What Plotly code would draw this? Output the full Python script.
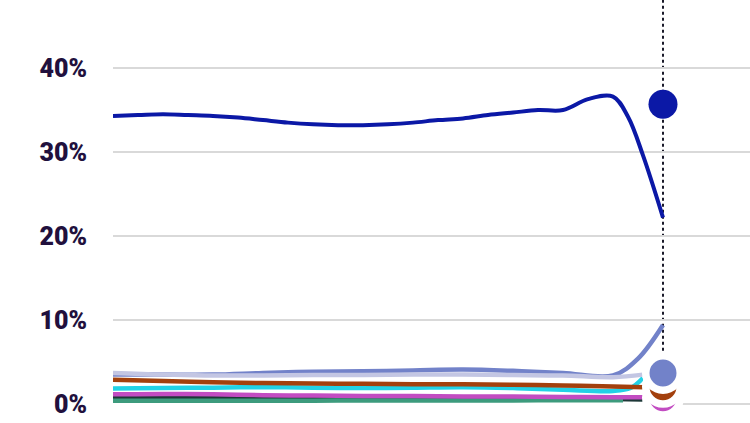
import plotly.graph_objects as go

# ---- data (percent) ----
main_x = [0, 1, 2, 3, 4, 5, 6, 7, 8, 9, 10, 11, 12, 13, 14, 15, 16, 17, 18, 19, 20, 20.6, 21.2, 22]
main_vals = [34.3, 34.4, 34.5, 34.4, 34.3, 34.1, 33.8, 33.5, 33.3, 33.2, 33.2, 33.3, 33.5, 33.8,
             34.0, 34.4, 34.7, 35.0, 35.0, 36.3, 36.6, 34.2, 29.6, 22.2]

peri_x = [0, 2, 4, 6, 8, 10, 12, 14, 16, 18, 20, 21, 22]
peri_vals = [3.5, 3.5, 3.5, 3.7, 3.85, 3.9, 4.0, 4.1, 3.95, 3.7, 3.4, 5.4, 9.4]

small_x = [0, 2, 4, 6, 8, 10, 12, 14, 16, 18, 20, 21.2]
lav_vals = [3.7, 3.5, 3.4, 3.4, 3.45, 3.45, 3.5, 3.5, 3.45, 3.4, 3.2, 3.5]
brown_vals = [2.9, 2.75, 2.6, 2.5, 2.45, 2.4, 2.35, 2.35, 2.3, 2.2, 2.1, 2.0]
cyan_x = [0, 2, 4, 6, 8, 10, 12, 14, 16, 18, 20, 20.7, 21.2]
cyan_vals = [1.85, 1.9, 1.95, 2.0, 1.95, 1.9, 1.95, 2.0, 1.9, 1.7, 1.55, 1.9, 3.1]
mag_vals = [1.15, 1.2, 1.15, 1.05, 1.0, 0.95, 0.95, 0.9, 0.9, 0.85, 0.8, 0.8]
dark_vals = [0.75, 0.75, 0.75, 0.75, 0.75, 0.72, 0.7, 0.7, 0.68, 0.65, 0.6, 0.55]
green_x = [0, 2, 4, 6, 8, 10, 12, 14, 16, 18, 20, 20.4]
green_vals = [0.4, 0.4, 0.4, 0.4, 0.4, 0.42, 0.42, 0.42, 0.42, 0.45, 0.45, 0.45]

end_x = 22
end_blue = 35.7
end_peri = 3.7
end_brown = 2.05
end_mag = 0.75

tick_vals = [0, 10, 20, 30, 40]
tick_text = ["0%", "10%", "20%", "30%", "40%"]

C_MAIN = "#0b18a6"
C_PERI = "#7282c9"
C_LAV = "#c3c6e3"
C_BROWN = "#a3400d"
C_CYAN = "#22d2e6"
C_MAG = "#c24cc2"
C_DARK = "#1d3838"
C_GREEN = "#3d9b7d"

fig = go.Figure()

def add_line(x, y, color, width=4.5):
    fig.add_trace(go.Scatter(x=x, y=y, mode="lines", line=dict(color=color, width=width, shape="spline", smoothing=1.0),
                             hoverinfo="skip", showlegend=False))

add_line(small_x, dark_vals, C_DARK)
add_line(green_x, green_vals, C_GREEN)
add_line(small_x, mag_vals, C_MAG)
add_line(cyan_x, cyan_vals, C_CYAN)
add_line(small_x, brown_vals, C_BROWN)
add_line(peri_x, peri_vals, C_PERI)
add_line(small_x, lav_vals, C_LAV)

def add_dot(y, color, size=34.5, halo=7.5):
    fig.add_trace(go.Scatter(x=[end_x], y=[y], mode="markers",
                             marker=dict(color=color, size=size, line=dict(color="white", width=halo)),
                             hoverinfo="skip", showlegend=False))

add_dot(end_mag, C_MAG)
add_dot(end_brown, C_BROWN)
add_dot(end_peri, C_PERI)

add_line(main_x, main_vals, C_MAIN, width=4)
add_dot(end_blue, C_MAIN, size=29, halo=0)

shapes = []
for v in tick_vals[1:]:
    shapes.append(dict(type="line", xref="x", yref="y", x0=0, x1=30, y0=v, y1=v,
                       line=dict(color="#d9d9d9", width=2), layer="below"))
shapes.append(dict(type="line", xref="x", yref="y", x0=22.76, x1=30, y0=0, y1=0,
                   line=dict(color="#d9d9d9", width=2), layer="below"))
shapes.append(dict(type="line", xref="x", yref="paper", x0=end_x, x1=end_x, y0=0.1, y1=1,
                   line=dict(color="#1a1a2a", width=2, dash="dot"), layer="below"))

fig.update_layout(
    width=750, height=423,
    margin=dict(l=113, r=0, t=0, b=0),
    paper_bgcolor="white", plot_bgcolor="white",
    shapes=shapes,
    xaxis=dict(range=[0, 25.48], visible=False, fixedrange=True),
    yaxis=dict(range=[-2.26, 48.1], showgrid=False, zeroline=False, showline=False,
               tickvals=tick_vals, ticktext=tick_text, ticks="", fixedrange=True,
               tickfont=dict(family="Roboto, Liberation Sans, Arial, sans-serif", size=25, color="#21103d", weight=900),
               ticklabelstandoff=25),
)

fig.write_html("out.html", config={"displayModeBar": False},
               post_script="document.body.style.margin='0px';document.body.style.overflow='hidden';")
